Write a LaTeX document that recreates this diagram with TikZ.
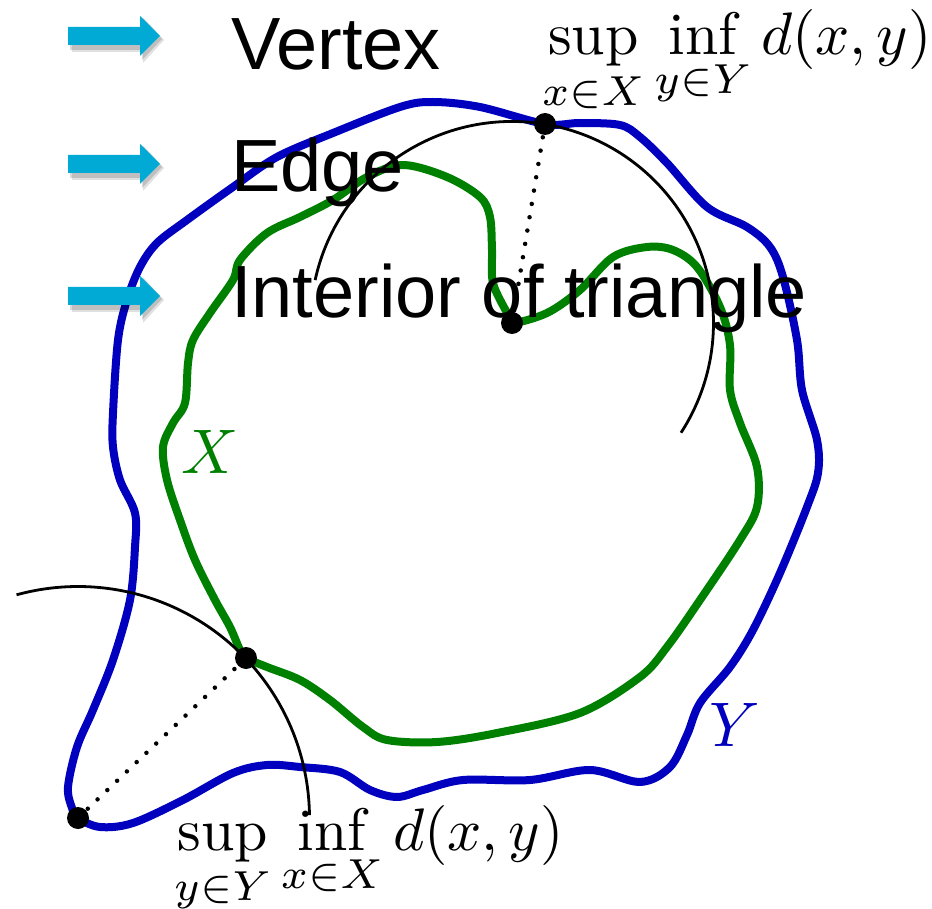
\documentclass[tikz,border=0pt]{standalone}
\usepackage{fontspec}
\newfontfamily\arialf{Liberation Sans}
\definecolor{arrowcyan}{RGB}{0,170,212}
\definecolor{curveblue}{RGB}{0,0,190}
\definecolor{curvegreen}{RGB}{0,128,0}
\tikzset{
  ycurve/.style={draw=curveblue, line width=8pt, line join=round},
  xcurve/.style={draw=curvegreen, line width=8pt, line join=round},
  circarc/.style={draw=black, line width=2.8pt},
  dotline/.style={draw=black, line width=4.5pt, line cap=round, dash pattern=on 0pt off 13.5pt},
  bigdot/.style={circle, fill=black, inner sep=0pt, minimum size=22pt},
  labeltext/.style={anchor=base west, inner sep=0pt, font=\arialf\fontsize{74}{80}\selectfont},
  formula/.style={anchor=base west, inner sep=0pt, scale=6.0},
  pics/cyanarrow/.style={code={
    \fill[black, opacity=0.12] (4,-8) -- (75,-8) -- (75,-19) -- (96,4) -- (75,27) -- (75,16) -- (4,16) -- cycle;
    \fill[black, opacity=0.15] (2,-7) -- (74,-7) -- (74,-18) -- (94,3) -- (74,24) -- (74,14) -- (2,14) -- cycle;
    \fill[arrowcyan] (0,-9) -- (72,-9) -- (72,-20) -- (92,0) -- (72,20) -- (72,9) -- (0,9) -- cycle;
  }}
}
\begin{document}
\begin{tikzpicture}[x=1pt, y=-1pt]
\useasboundingbox (0,0) rectangle (932,909);
% closed curve Y
\draw[ycurve] plot[smooth cycle, tension=0.55] coordinates {
 (78,818) (100,827) (133,823) (183,800) (233,773) (267,765) (300,767) (340,772)
 (370,790) (397,797) (423,790) (463,780) (530,780) (590,770) (640,782) (670,767)
 (687,735) (700,703) (730,667) (753,630) (780,573) (807,507) (818,473) (817,440)
 (802,390) (797,340) (783,277) (770,247) (747,227) (707,207) (667,163) (640,137)
 (620,125) (580,123) (545,124) (480,107) (433,102) (400,107) (333,133) (277,157)
 (233,187) (187,220) (157,243) (140,267) (127,300) (118,340) (113,413) (113,447)
 (120,480) (135,513) (135,547) (130,600) (113,660) (93,710) (77,747) (68,787) (72,808)};
% closed curve X
\draw[xcurve] plot[smooth cycle, tension=0.55] coordinates {
 (512,323) (547,313) (580,290) (613,257) (647,247) (673,250) (697,267) (720,307)
 (730,345) (730,390) (740,423) (757,467) (757,507) (740,540) (700,600) (667,647)
 (640,677) (580,713) (497,733) (437,742) (387,740) (363,727) (330,700) (300,680)
 (267,667) (246,658) (240,650) (230,627) (215,600) (195,560) (180,520) (167,480)
 (163,447) (173,423) (185,403) (188,363) (193,340) (210,313) (233,280) (240,260)
 (267,233) (300,217) (333,200) (367,177) (403,165) (447,177) (480,197) (490,217)
 (492,250) (493,283) (507,313)};
% points
\coordinate (cmid) at (512,323);
\coordinate (cbl) at (78,818);
\node[bigdot] (ptop) at (545,124) {};
\node[bigdot] (pmid) at (cmid) {};
\node[bigdot] (plow) at (246,658) {};
\node[bigdot] (pbl) at (cbl) {};
% arcs
\draw[circarc] (cmid) ++(192.3:201.5) arc[start angle=192.3, end angle=393, radius=201.5];
\draw[circarc] (cbl) ++(254.6:231.5) arc[start angle=254.6, end angle=359.3, radius=231.5];
% dotted radii
\draw[dotline] (ptop.center) -- (pmid.center);
\draw[dotline] (pbl.center) -- (plow.center);
% labels of curves
\node[text=curvegreen, scale=6.3] (lx) at (210,452) {$X$};
\node[text=curveblue, scale=6.3] (ly) at (735,725) {$Y$};
% formulas
\node[formula] (ftop) at (541,55) {$\displaystyle\sup_{x\in X}\inf_{y\in Y} d(x,y)$};
\node[formula] (fbot) at (173,850) {$\displaystyle\sup_{y\in Y}\inf_{x\in X} d(x,y)$};
% legend
\pic at (68,36) {cyanarrow};
\pic at (68,164) {cyanarrow};
\pic at (68,296) {cyanarrow};
\node[labeltext] (tv) at (231,70) {Vertex};
\node[labeltext] (te) at (231,192) {Edge};
\node[labeltext] (ti) at (231,318) {Interior of triangle};
\end{tikzpicture}
\end{document}
